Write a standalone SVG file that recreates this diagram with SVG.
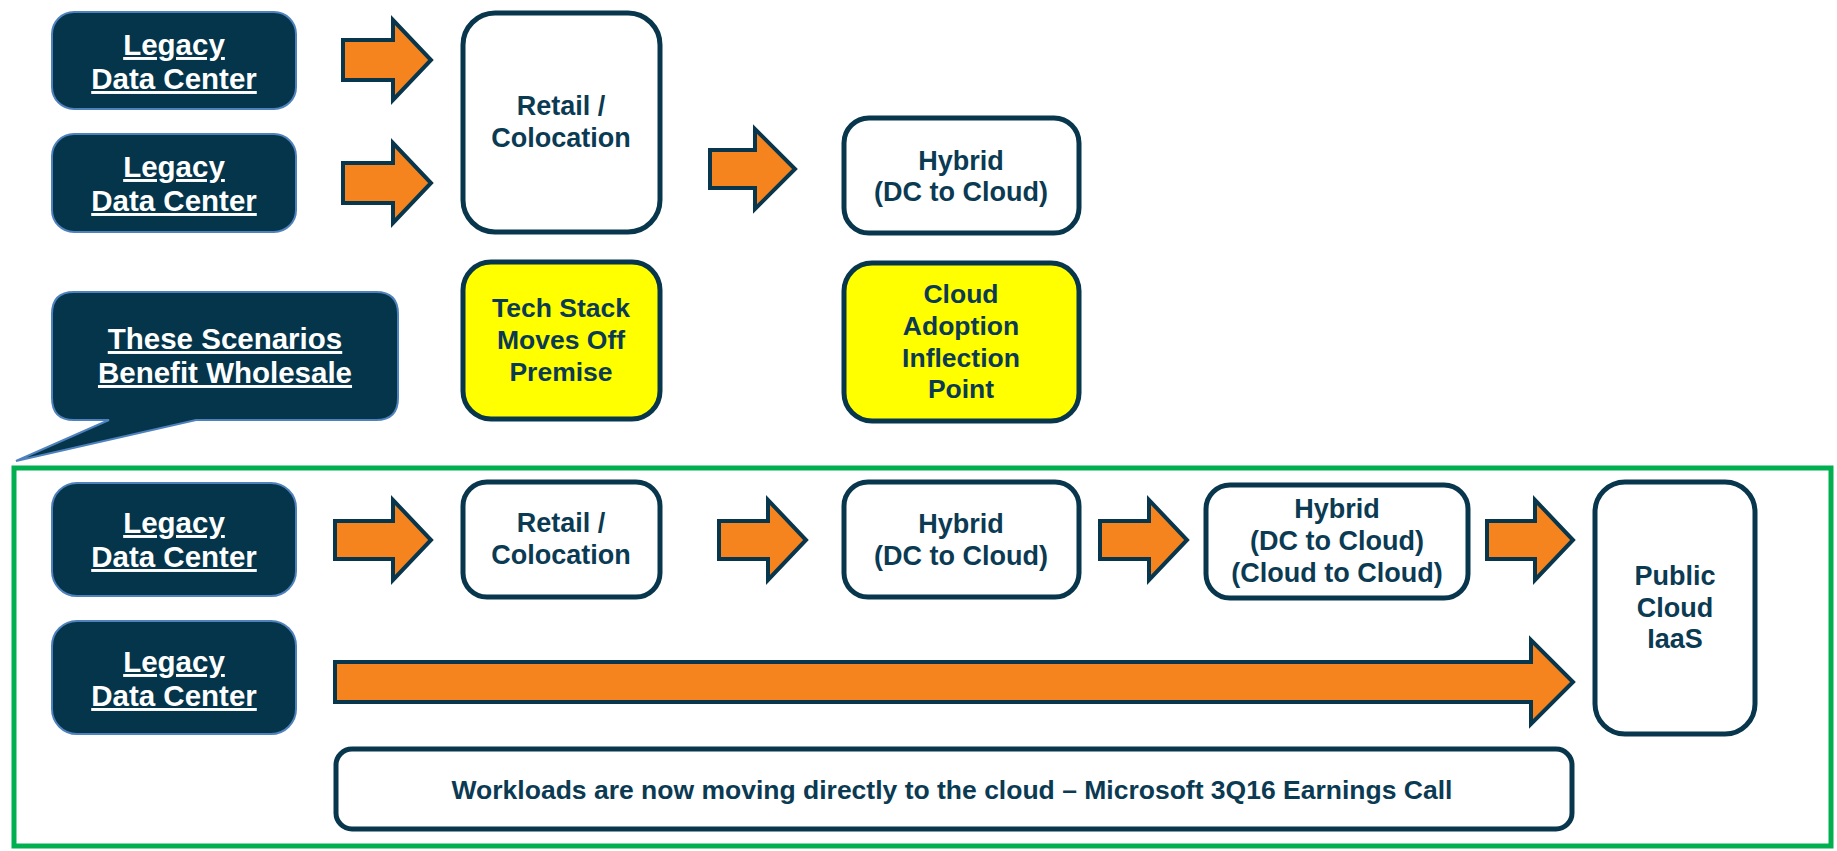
<svg xmlns="http://www.w3.org/2000/svg" width="1837" height="851" viewBox="0 0 1837 851">
<style>
.dk{fill:#04354b;stroke:#4f81bd;stroke-width:2}
.wb{fill:#ffffff;stroke:#07364d;stroke-width:5}
.yb{fill:#ffff00;stroke:#07364d;stroke-width:5}
.ar{fill:#f5841f;stroke:#07364d;stroke-width:4;stroke-linejoin:miter}
.tw{font-family:"Liberation Sans",Arial,sans-serif;font-weight:bold;font-size:29.5px;fill:#ffffff;text-anchor:middle;text-decoration:underline}
.tn{font-family:"Liberation Sans",Arial,sans-serif;font-weight:bold;font-size:27px;fill:#0b3a53;text-anchor:middle}
.ty{font-family:"Liberation Sans",Arial,sans-serif;font-weight:bold;font-size:26.5px;fill:#0b3a53;text-anchor:middle}
</style>
<rect width="1837" height="851" fill="#ffffff"/>
<rect id="scope" x="14" y="468" width="1817" height="378" fill="none" stroke="#00b050" stroke-width="5"/>
<g id="connectors">
<path class="ar" d="M343,40 L393,40 L393,20 L431,60 L393,100 L393,80 L343,80 Z"/>
<path class="ar" d="M343,163 L393,163 L393,143 L431,183 L393,223 L393,203 L343,203 Z"/>
<path class="ar" d="M710,150 L755,150 L755,129 L795,169 L755,209 L755,188 L710,188 Z"/>
<path class="ar" d="M335,521 L393,521 L393,500 L431,540 L393,580 L393,559 L335,559 Z"/>
<path class="ar" d="M719,521 L768,521 L768,500 L806,540 L768,580 L768,559 L719,559 Z"/>
<path class="ar" d="M1100,521 L1149,521 L1149,500 L1187,540 L1149,580 L1149,559 L1100,559 Z"/>
<path class="ar" d="M1487,521 L1535,521 L1535,500 L1573,540 L1535,580 L1535,559 L1487,559 Z"/>
<path class="ar" d="M335,662 L1531,662 L1531,640 L1573,682 L1531,724 L1531,702 L335,702 Z"/>
</g>
<g id="legacy1"><rect class="dk" x="52" y="12" width="244" height="97" rx="22"/><text class="tw" x="174" y="55">Legacy</text><text class="tw" x="174" y="89">Data Center</text></g>
<g id="legacy2"><rect class="dk" x="52" y="134" width="244" height="98" rx="22"/><text class="tw" x="174" y="177">Legacy</text><text class="tw" x="174" y="211">Data Center</text></g>
<g id="retail1"><rect class="wb" x="463" y="13" width="197" height="219" rx="32"/><text class="tn" x="561" y="115">Retail /</text><text class="tn" x="561" y="147">Colocation</text></g>
<g id="hybrid1"><rect class="wb" x="844" y="118" width="235" height="115" rx="25"/><text class="tn" x="961" y="170">Hybrid</text><text class="tn" x="961" y="201">(DC to Cloud)</text></g>
<g id="techstack"><rect class="yb" x="463" y="262" width="197" height="157" rx="28"/><text class="ty" x="561" y="317">Tech Stack</text><text class="ty" x="561" y="349">Moves Off</text><text class="ty" x="561" y="381">Premise</text></g>
<g id="cloudadoption"><rect class="yb" x="844" y="263" width="235" height="158" rx="28"/><text class="ty" x="961" y="303">Cloud</text><text class="ty" x="961" y="335">Adoption</text><text class="ty" x="961" y="367">Inflection</text><text class="ty" x="961" y="398">Point</text></g>
<g id="callout"><path class="dk" d="M74,292 L376,292 Q398,292 398,314 L398,398 Q398,420 376,420 L196,420 L16,461 L109,420 L74,420 Q52,420 52,398 L52,314 Q52,292 74,292 Z"/><text class="tw" x="225" y="349">These Scenarios</text><text class="tw" x="225" y="383">Benefit Wholesale</text></g>
<g id="legacy3"><rect class="dk" x="52" y="483" width="244" height="113" rx="25"/><text class="tw" x="174" y="533">Legacy</text><text class="tw" x="174" y="567">Data Center</text></g>
<g id="legacy4"><rect class="dk" x="52" y="621" width="244" height="113" rx="25"/><text class="tw" x="174" y="672">Legacy</text><text class="tw" x="174" y="706">Data Center</text></g>
<g id="retail2"><rect class="wb" x="463" y="482" width="197" height="115" rx="24"/><text class="tn" x="561" y="532">Retail /</text><text class="tn" x="561" y="564">Colocation</text></g>
<g id="hybrid2"><rect class="wb" x="844" y="482" width="235" height="115" rx="24"/><text class="tn" x="961" y="533">Hybrid</text><text class="tn" x="961" y="565">(DC to Cloud)</text></g>
<g id="hybrid3"><rect class="wb" x="1206" y="485" width="262" height="113" rx="24"/><text class="tn" x="1337" y="518">Hybrid</text><text class="tn" x="1337" y="550">(DC to Cloud)</text><text class="tn" x="1337" y="582">(Cloud to Cloud)</text></g>
<g id="publiccloud"><rect class="wb" x="1595" y="482" width="160" height="252" rx="30"/><text class="tn" x="1675" y="585">Public</text><text class="tn" x="1675" y="617">Cloud</text><text class="tn" x="1675" y="648">IaaS</text></g>
<g id="workloads"><rect class="wb" x="336" y="749" width="1236" height="80" rx="16"/><text class="tn" x="952" y="799" style="font-size:26.5px">Workloads are now moving directly to the cloud – Microsoft 3Q16 Earnings Call</text></g>
</svg>
